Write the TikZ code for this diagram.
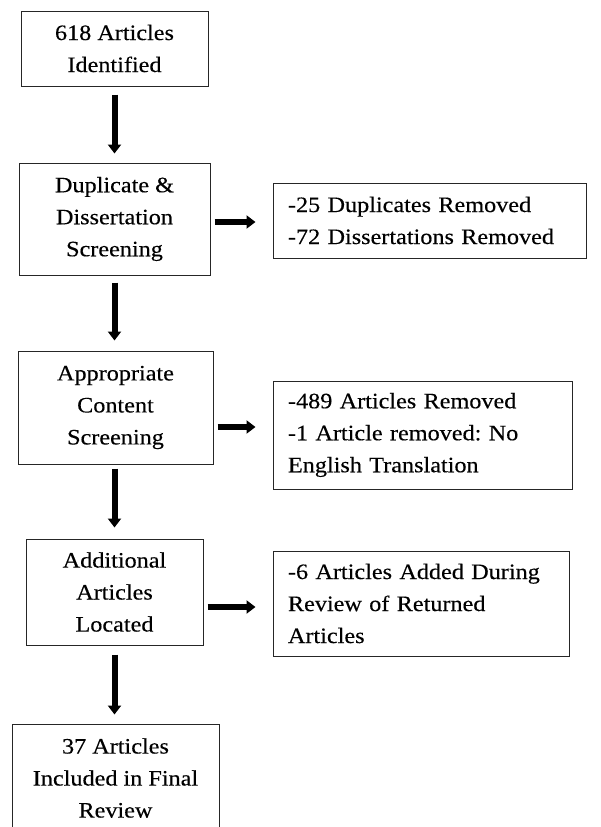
\documentclass[tikz,border=0pt]{standalone}
\usepackage{fontspec}
\setmainfont{Liberation Serif}[FakeStretch=1.1,FakeBold=0.3]
\usetikzlibrary{arrows.meta}
\frenchspacing
\begin{document}
\begin{tikzpicture}[x=1pt,y=-1pt,
  box/.style={draw=black!85, line width=1pt, inner sep=0pt, align=center,
    font=\fontsize{22}{32}\selectfont},
  rbox/.style={draw=black!85, line width=1pt, inner xsep=15pt, inner ysep=0pt, align=left,
    font=\fontsize{22}{32}\selectfont},
  varr/.style={line width=6pt, -{Triangle[width=13pt,length=9pt]}},
  harr/.style={line width=6pt, -{Triangle[width=13pt,length=9pt]}, shorten <=4pt, shorten >=17pt}]
\useasboundingbox (0,0) rectangle (600,827);
\clip (0,0) rectangle (600,827);
% left column
\node[box, minimum width=187pt, minimum height=75pt] (b1) at (114.5,48.5) {618 Articles\\Identified};
\node[box, minimum width=191pt, minimum height=112pt] (b2) at (114.5,219) {Duplicate \&\\Dissertation\\Screening};
\node[box, minimum width=195pt, minimum height=113pt] (b3) at (115.5,407.5) {Appropriate\\Content\\Screening};
\node[box, minimum width=177pt, minimum height=106pt] (b4) at (114.5,592) {Additional\\Articles\\Located};
\node[box, minimum width=207pt, minimum height=108pt] (b5) at (115.5,778) {37 Articles\\Included in Final\\Review};
% right column
\node[rbox, text width=283pt, minimum height=75pt] (r2) at (429.5,220.5) {-25 Duplicates Removed\\-72 Dissertations Removed};
\node[rbox, text width=269pt, minimum height=108pt] (r3) at (422.5,435) {-489 Articles Removed\\-1 Article removed: No\\English Translation};
\node[rbox, text width=266pt, minimum height=105pt] (r4) at (421,603.5) {-6 Articles Added During\\Review of Returned\\Articles};
% vertical arrows
\draw[varr, shorten <=8pt, shorten >=9pt] (b1.south) -- (b1.south |- b2.north);
\draw[varr, shorten <=7pt, shorten >=10pt] (b2.south) -- (b2.south |- b3.north);
\draw[varr, shorten <=4pt, shorten >=11pt] (b3.south -| b4.south) -- (b4.north);
\draw[varr, shorten <=9pt, shorten >=9pt] (b4.south) -- (b4.south |- b5.north);
% horizontal arrows
\coordinate (h2) at (0,222);
\coordinate (h3) at (0,427);
\coordinate (h4) at (0,607);
\draw[harr] (b2.east |- h2) -- (r2.west |- h2);
\draw[harr] (b3.east |- h3) -- (r3.west |- h3);
\draw[harr] (b4.east |- h4) -- (r4.west |- h4);
\end{tikzpicture}
\end{document}
